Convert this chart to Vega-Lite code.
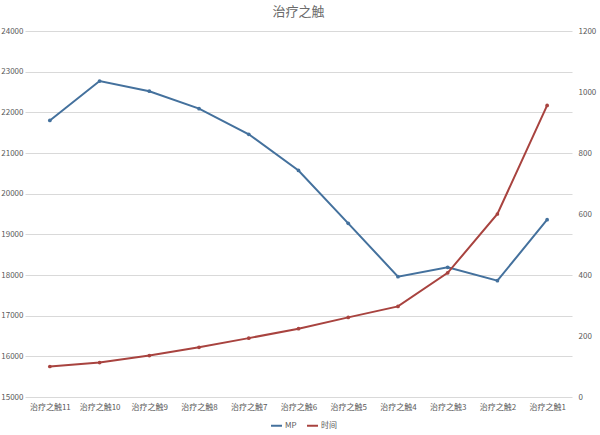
{
  "$schema": "https://vega.github.io/schema/vega-lite/v6.json",
  "width": 600,
  "height": 435,
  "autosize": {"type": "fit", "contains": "padding"},
  "padding": {"left": 0, "right": 4, "top": 6, "bottom": 24},
  "background": "white",
  "config": {
    "font": "Noto Sans CJK SC",
    "view": {"stroke": null},
    "axis": {"labelFont": "Noto Sans CJK SC", "labelColor": "#595959", "labelFontSize": 8, "ticks": false, "domain": false, "gridColor": "#d9d9d9", "gridWidth": 1},
    "legend": {"labelFont": "Noto Sans CJK SC", "labelColor": "#595959", "labelFontSize": 8}
  },
  "title": {"text": "治疗之触", "fontSize": 13, "fontWeight": "normal", "color": "#6b6b6b", "font": "Noto Sans CJK SC", "offset": 8},
  "data": {"values": [
    {"name": "治疗之触11", "mp": 21800, "time": 100},
    {"name": "治疗之触10", "mp": 22770, "time": 113},
    {"name": "治疗之触9", "mp": 22520, "time": 136},
    {"name": "治疗之触8", "mp": 22090, "time": 163},
    {"name": "治疗之触7", "mp": 21460, "time": 193},
    {"name": "治疗之触6", "mp": 20570, "time": 224},
    {"name": "治疗之触5", "mp": 19270, "time": 261},
    {"name": "治疗之触4", "mp": 17960, "time": 297},
    {"name": "治疗之触3", "mp": 18190, "time": 407},
    {"name": "治疗之触2", "mp": 17860, "time": 600},
    {"name": "治疗之触1", "mp": 19360, "time": 956}
  ]},
  "encoding": {
    "x": {"field": "name", "type": "ordinal", "sort": null, "scale": {"type": "point", "padding": 0.5}, "axis": {"title": null, "labelAngle": 0, "labelPadding": 6, "grid": false}}
  },
  "layer": [
    {
      "mark": {"type": "line", "strokeWidth": 2, "point": {"filled": true, "size": 14}},
      "encoding": {
        "y": {"field": "mp", "type": "quantitative", "scale": {"domain": [15000, 24000], "nice": false, "zero": false}, "axis": {"title": null, "format": "d", "values": [15000, 16000, 17000, 18000, 19000, 20000, 21000, 22000, 23000, 24000], "grid": true, "orient": "left", "labelPadding": 2}},
        "color": {"datum": "MP", "type": "nominal", "scale": {"domain": ["MP", "时间"], "range": ["#44719d", "#a8433f"]}, "legend": {"title": null, "orient": "none", "legendX": 245, "legendY": 388, "direction": "horizontal", "symbolType": "stroke", "symbolStrokeWidth": 2, "symbolSize": 120, "columnPadding": 6, "labelOffset": 2}}
      }
    },
    {
      "mark": {"type": "line", "strokeWidth": 2, "point": {"filled": true, "size": 14}},
      "encoding": {
        "y": {"field": "time", "type": "quantitative", "scale": {"domain": [0, 1200], "nice": false}, "axis": {"title": null, "format": "d", "values": [0, 200, 400, 600, 800, 1000, 1200], "grid": false, "orient": "right", "labelPadding": 6}},
        "color": {"datum": "时间", "type": "nominal"}
      }
    }
  ],
  "resolve": {"scale": {"y": "independent"}}
}
